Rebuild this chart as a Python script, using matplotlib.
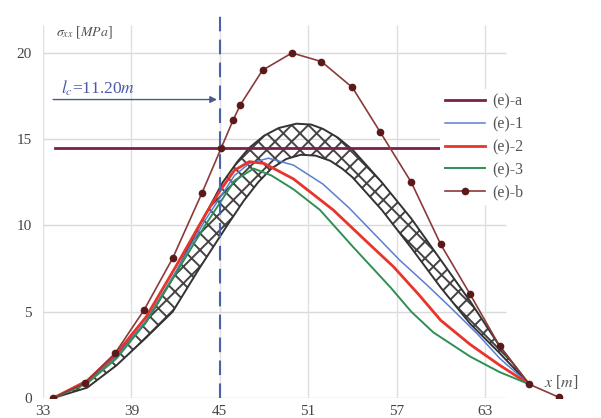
import numpy as np
import matplotlib
matplotlib.use('Agg')
import matplotlib.pyplot as plt

plt.rcParams['font.family'] = ['Liberation Serif', 'DejaVu Serif']
plt.rcParams['mathtext.fontset'] = 'stix'
plt.rcParams['hatch.linewidth'] = 1.4

# tick positions
x_ticks = [33, 39, 45, 51, 57, 63]
y_ticks = [0, 5, 10, 15, 20]

# (e)-b : curve with markers
eb_x = [33.7, 35.85, 37.9, 39.86, 41.8, 43.8, 45.1, 45.9, 46.4, 47.9, 49.9, 51.9,
        54.0, 55.9, 58.0, 60.0, 62.0, 64.0, 66.0, 68.0]
eb_y = [0.0, 0.87, 2.6, 5.1, 8.1, 11.9, 14.5, 16.1, 17.0, 19.0, 20.0, 19.5,
        18.0, 15.4, 12.5, 8.9, 6.0, 3.0, 0.8, 0.05]

# (e)-a : constant level
ea_x = [33.8, 60.1]
ea_y = [14.5, 14.5]

# hatched band, upper and lower edge
up_x = [33.7, 36, 38, 40, 42, 43.5, 45.2, 46.2, 47, 48, 49, 50.2, 51.2, 52, 53, 54, 56, 58, 60, 62, 64, 66]
up_y = [0, 0.9, 2.5, 4.4, 7.2, 9.8, 12.5, 13.7, 14.5, 15.2, 15.65, 15.9, 15.85, 15.6, 15.1, 14.4, 12.5, 10.4, 8.0, 5.6, 3.0, 0.8]
lo_x = [33.7, 36, 38, 40, 41.8, 43.6, 45.5, 46.6, 47.6, 48.5, 49.5, 50.5, 51.5, 52.5, 53.3, 54, 56, 58, 60, 62, 64, 66]
lo_y = [0, 0.6, 1.9, 3.5, 5.0, 7.5, 10.0, 11.4, 12.5, 13.3, 13.85, 14.1, 14.05, 13.75, 13.3, 12.8, 10.9, 8.7, 6.4, 4.3, 2.6, 0.8]

# (e)-1
e1_x = [33.7, 36, 38, 40, 42, 44, 46, 47, 48.3, 50, 52, 53.8, 55.5, 57.2, 59, 60.6, 62.5, 64, 66]
e1_y = [0, 0.9, 2.4, 4.5, 7.3, 10.3, 12.9, 13.6, 13.9, 13.5, 12.4, 11.0, 9.5, 8.0, 6.6, 5.3, 3.7, 2.3, 0.8]
# (e)-2
e2_x = [33.7, 36, 38, 40, 42, 44, 45, 46, 47, 48, 50, 52.7, 54.8, 56.8, 58.5, 60, 62, 64, 66]
e2_y = [0, 1.0, 2.6, 4.7, 7.6, 10.6, 12.0, 13.2, 13.7, 13.6, 12.7, 10.9, 9.2, 7.6, 6.0, 4.5, 3.1, 1.9, 0.8]
# (e)-3
e3_x = [33.7, 36, 38, 40, 42, 44, 46, 47.3, 48.5, 50, 51.8, 54, 56.6, 58, 59.5, 62, 64, 66]
e3_y = [0, 0.85, 2.3, 4.4, 7.2, 10.0, 12.6, 13.3, 12.9, 12.1, 10.9, 8.8, 6.4, 5.0, 3.8, 2.4, 1.5, 0.8]

x_crit = 45.0

fig = plt.figure(figsize=(6.01, 4.18), dpi=100)
ax = fig.add_axes([43 / 601, 1 - 398 / 418, 547 / 601, 393 / 418])
ax.set_xlim(33, 70.13)
ax.set_ylim(0, 22.78)
for s in ax.spines.values():
    s.set_visible(False)

# grid drawn only over the data region
ax.hlines(y_ticks, 33, 64.4, color='#d9d9d9', lw=1.0, zorder=0)
ax.vlines(x_ticks, 0, 21.6, color='#e0e0e0', lw=1.0, zorder=0)

# hatched band
poly_x = np.concatenate([up_x, lo_x[::-1]])
poly_y = np.concatenate([up_y, lo_y[::-1]])
ax.fill(poly_x, poly_y, facecolor='none', edgecolor='#444444', hatch='xx', lw=0, zorder=2)
ax.plot(up_x, up_y, color='#333333', lw=1.4, zorder=3)
ax.plot(lo_x, lo_y, color='#333333', lw=1.4, zorder=3)

l1, = ax.plot(e1_x, e1_y, color='#5a7fd0', lw=1.1, zorder=4, label='(e)-1')
l2, = ax.plot(e2_x, e2_y, color='#e8342a', lw=2.0, zorder=4, label='(e)-2')
l3, = ax.plot(e3_x, e3_y, color='#2f8f55', lw=1.4, zorder=4, label='(e)-3')
la, = ax.plot(ea_x, ea_y, color='#7b1f4f', lw=2.0, zorder=5, label='(e)-a')
lb, = ax.plot(eb_x, eb_y, color='#8b3a3a', lw=1.2, marker='o', ms=4.5,
              mfc='#5a1a1a', mec='#5a1a1a', zorder=6, label='(e)-b')

# critical length marker
ax.vlines(x_crit, 0, 22.4, color='#4a62a8', lw=1.5, linestyles=(0, (7, 4)), zorder=7)
ax.annotate('', xy=(x_crit, 17.3), xytext=(33.5, 17.3),
            arrowprops=dict(arrowstyle='-|>', color='#4a5a8a', lw=1.0, mutation_scale=10),
            zorder=7)
ax.text(34.2, 17.4, r'$l_c$=11.20$m$', color='#4a5aa8', fontsize=12.5, va='bottom')

ax.text(33.9, 21.2, r'$\sigma_{xx}$ [$MPa$]', color='#555555', fontsize=10, va='center')
ax.text(67.0, 0.9, r'$x$ [$m$]', color='#555555', fontsize=11.5, va='center')

ax.set_xticks(x_ticks)
ax.set_yticks(y_ticks)
ax.tick_params(axis='x', length=0, labelsize=11, labelcolor='#444444', pad=5)
ax.tick_params(axis='y', length=0, labelsize=11, labelcolor='#444444', pad=8)

leg = ax.legend(handles=[la, l1, l2, l3, lb], loc='upper left',
                bbox_to_anchor=(440 / 601, 1 - 89 / 418), bbox_transform=fig.transFigure,
                frameon=True, facecolor='white', edgecolor='none', framealpha=1,
                fontsize=11.5, handlelength=2.5, handletextpad=0.5, labelspacing=0.42,
                borderpad=0.3, borderaxespad=0)
for t in leg.get_texts():
    t.set_color('#555555')
leg.set_zorder(8)

fig.savefig('out.png', dpi=100)
